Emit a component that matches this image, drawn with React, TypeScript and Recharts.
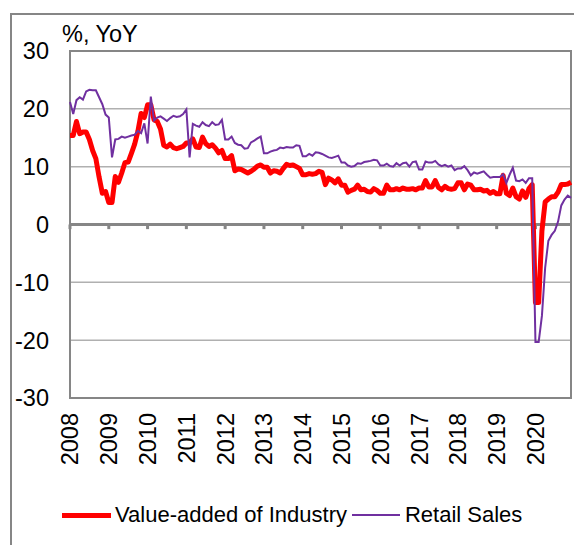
import React from 'react';
import { LineChart, Line, XAxis, YAxis, CartesianGrid, ReferenceLine, ReferenceArea, Legend } from 'recharts';

const FONT = '"Liberation Sans", Arial, sans-serif';
const AXIS_FS = 23.5;

const years = ['2008', '2009', '2010', '2011', '2012', '2013', '2014', '2015', '2016', '2017', '2018', '2019', '2020'];
const yTicks = [-30, -20, -10, 0, 10, 20, 30];

// monthly, Jan 2008 .. Dec 2020
const industry = [
  15.4, 15.4, 17.8, 15.7, 16.0, 16.0, 14.7, 12.8, 11.4, 8.2, 5.4, 5.7,
  3.8, 3.8, 8.3, 7.3, 8.9, 10.7, 10.8, 12.3, 13.9, 16.1, 19.2, 18.5,
  20.7, 20.7, 18.1, 17.8, 16.5, 13.7, 13.4, 13.9, 13.3, 13.1, 13.3, 13.5,
  14.1, 14.1, 14.8, 13.4, 13.3, 15.1, 14.0, 13.5, 13.8, 13.2, 12.4, 12.8,
  11.4, 11.4, 11.9, 9.3, 9.6, 9.5, 9.2, 8.9, 9.2, 9.6, 10.1, 10.3,
  9.9, 9.9, 8.9, 9.3, 9.2, 8.9, 9.7, 10.4, 10.2, 10.3, 10.0, 9.7,
  8.6, 8.6, 8.8, 8.7, 8.8, 9.2, 9.0, 6.9, 8.0, 7.7, 7.2, 7.9,
  6.8, 6.8, 5.6, 5.9, 6.1, 6.8, 6.0, 6.1, 5.7, 5.6, 6.2, 5.9,
  5.4, 5.4, 6.8, 6.0, 6.0, 6.2, 6.0, 6.3, 6.1, 6.1, 6.2, 6.0,
  6.3, 6.3, 7.6, 6.5, 6.5, 7.6, 6.4, 6.0, 6.6, 6.2, 6.1, 6.2,
  7.2, 7.2, 6.0, 7.0, 6.8, 6.0, 6.0, 6.1, 5.8, 5.9, 5.4, 5.7,
  5.3, 5.3, 8.5, 5.4, 5.0, 6.3, 4.8, 4.4, 5.8, 4.7, 6.2, 6.9,
  -13.5, -13.5, -1.1, 3.9, 4.4, 4.8, 4.8, 5.6, 6.9, 6.9, 7.0, 7.3,
];

const retail = [
  21.2, 19.1, 21.5, 22.0, 21.6, 23.0, 23.3, 23.2, 23.2, 22.0, 20.8, 19.0,
  18.5, 11.6, 14.7, 14.8, 15.2, 15.0, 15.2, 15.4, 15.5, 16.2, 15.8, 17.5,
  14.0, 22.1, 18.0, 18.5, 18.7, 18.3, 17.9, 18.4, 18.8, 18.6, 18.7, 19.1,
  19.9, 11.6, 17.4, 17.1, 16.9, 17.7, 17.2, 17.0, 17.7, 17.2, 17.3, 18.1,
  14.7, 14.7, 15.2, 14.1, 13.8, 13.7, 13.1, 13.2, 14.2, 14.5, 14.9, 15.2,
  12.3, 12.3, 12.6, 12.8, 12.9, 13.3, 13.2, 13.4, 13.3, 13.3, 13.7, 13.6,
  11.8, 11.8, 12.2, 11.9, 12.5, 12.4, 12.2, 11.9, 11.6, 11.5, 11.7, 11.9,
  10.7, 10.7, 10.2, 10.0, 10.1, 10.6, 10.5, 10.8, 10.9, 11.0, 11.2, 11.1,
  10.2, 10.2, 10.5, 10.1, 10.0, 10.6, 10.2, 10.6, 10.7, 10.0, 10.8, 10.9,
  9.5, 9.5, 10.9, 10.7, 10.7, 11.0, 10.4, 10.1, 10.3, 10.0, 10.2, 9.4,
  9.7, 9.7, 10.1, 9.4, 8.5, 9.0, 8.8, 9.0, 9.2, 8.6, 8.1, 8.2,
  8.2, 8.2, 8.7, 7.2, 8.6, 9.8, 7.6, 7.5, 7.8, 7.2, 8.0, 8.0,
  -20.3, -20.3, -15.8, -7.5, -2.8, -1.8, -1.1, 0.5, 3.3, 4.3, 5.0, 4.6,
];

const data = industry.map((v, i) => ({ i, industry: v, retail: retail[i] }));
const xTicks = years.map((_, k) => k * 12);

const YearTick = ({ x, y, payload }: any) => (
  <text
    x={x}
    y={y}
    dy="0.36em"
    transform={`rotate(-90, ${x}, ${y})`}
    textAnchor="end"
    fontSize={AXIS_FS}
    fontFamily={FONT}
    fill="#000"
  >
    {years[Math.round(payload.value / 12)]}
  </text>
);

// value labels sit right-aligned a little left of the plot edge
const ValueTick = ({ y, payload, plotLeft }: any) => (
  <text x={plotLeft - 21} y={y} dy="0.36em" textAnchor="end" fontSize={AXIS_FS} fontFamily={FONT} fill="#000">
    {payload.value}
  </text>
);

const LegendContent = () => (
  <div style={{ display: 'flex', alignItems: 'center', fontFamily: FONT, fontSize: 22, lineHeight: '24px', color: '#000', whiteSpace: 'nowrap' }}>
    <span style={{ display: 'inline-block', width: 49, height: 5, background: '#FF0000', marginRight: 4 }} />
    <span>Value-added of Industry</span>
    <span style={{ display: 'inline-block', width: 48, height: 2, background: '#7030A0', marginLeft: 5, marginRight: 5 }} />
    <span>Retail Sales</span>
  </div>
);

export default function App() {
  return (
    <div style={{ position: 'relative', width: 574, height: 545, overflow: 'hidden', background: '#fff' }}>
      <style>{'body{margin:0}'}</style>
      <div style={{ position: 'absolute', left: 10, top: 13, width: 700, height: 700, border: '2px solid #868686' }} />
      <div style={{ position: 'absolute', left: 62, top: 23, fontFamily: FONT, fontSize: AXIS_FS, lineHeight: '23px', color: '#000' }}>
        %, YoY
      </div>
      <div style={{ position: 'absolute', left: 0, top: 0 }}>
        <LineChart width={574} height={545} data={data} margin={{ top: 51, right: 3, bottom: 0, left: 0 }}>
          <CartesianGrid vertical={false} stroke="#b0b0b0" strokeWidth={1.5} />
          <XAxis
            type="number"
            dataKey="i"
            domain={[0, 155]}
            ticks={xTicks}
            interval={0}
            axisLine={false}
            tickLine={false}
            tickSize={0}
            tickMargin={15}
            height={147}
            tick={<YearTick />}
          />
          <YAxis
            domain={[-30, 30]}
            ticks={yTicks}
            interval={0}
            width={70}
            axisLine={false}
            tickLine={false}
            tick={<ValueTick plotLeft={70} />}
          />
          <ReferenceArea x1={0} x2={155} y1={-30} y2={30} fill="none" stroke="#868686" strokeWidth={2} ifOverflow="visible" />
          <ReferenceLine y={0} stroke="#868686" strokeWidth={3} />
          {xTicks.map((t) => (
            <ReferenceLine key={t} segment={[{ x: t, y: 0 }, { x: t, y: -0.8 }]} stroke="#868686" strokeWidth={3} />
          ))}
          <Line
            type="linear"
            dataKey="industry"
            name="Value-added of Industry"
            stroke="#FF0000"
            strokeWidth={5}
            dot={false}
            strokeLinejoin="round"
            isAnimationActive={false}
          />
          <Line
            type="linear"
            dataKey="retail"
            name="Retail Sales"
            stroke="#7030A0"
            strokeWidth={2}
            dot={false}
            isAnimationActive={false}
          />
          <Legend
            layout="horizontal"
            verticalAlign="middle"
            align="center"
            content={<LegendContent />}
            wrapperStyle={{ position: 'absolute', left: 62, top: 503, width: 'auto', height: 'auto' }}
          />
        </LineChart>
      </div>
    </div>
  );
}
